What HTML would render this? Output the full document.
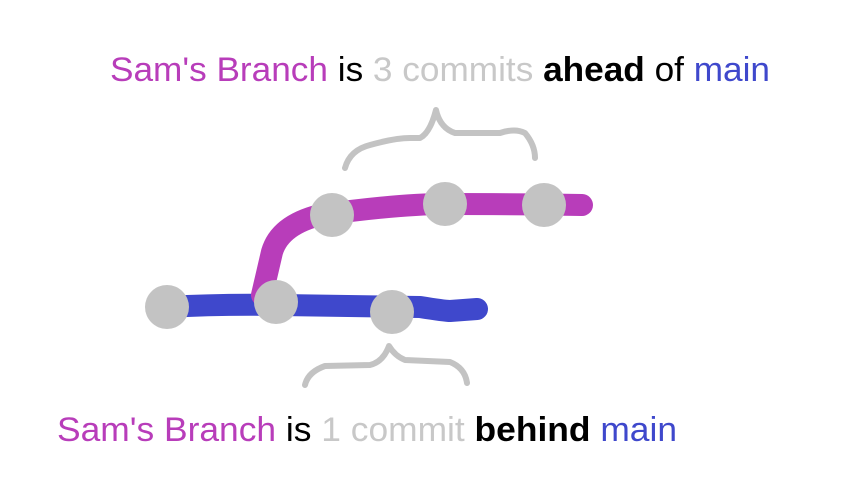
<!DOCTYPE html>
<html><head><style>
body{margin:0;background:#fff;width:866px;height:497px;overflow:hidden}
svg{display:block}
text{font-family:"Liberation Sans","DejaVu Sans",sans-serif;font-size:34px}
</style></head><body>
<svg width="866" height="497" viewBox="0 0 866 497">
<text x="110" y="81" textLength="660" lengthAdjust="spacingAndGlyphs"><tspan fill="#b83dba">Sam's Branch</tspan><tspan fill="#000"> is </tspan><tspan fill="#c8c8c8">3 commits </tspan><tspan fill="#000" font-weight="bold">ahead</tspan><tspan fill="#000"> of </tspan><tspan fill="#3f48cc">main</tspan></text>
<text x="57" y="441" textLength="620" lengthAdjust="spacingAndGlyphs"><tspan fill="#b83dba">Sam's Branch</tspan><tspan fill="#000"> is </tspan><tspan fill="#c8c8c8">1 commit </tspan><tspan fill="#000" font-weight="bold">behind</tspan><tspan fill="#3f48cc"> main</tspan></text>
<g fill="none" stroke-linecap="round" stroke-linejoin="round">
<path d="M167 307 Q220 304 280 305 L420 307 Q445 311 450 311 L477 309" stroke="#3f48cc" stroke-width="22"/>
<path d="M262 295 L272 252 Q280 225 320 215 Q400 204 445 204 Q520 204 582 205" stroke="#b83dba" stroke-width="22"/>
<path d="M345 168 Q350 150 370 145 Q395 138 410 138 L420 138 Q430 133 436 110 Q440 128 455 133 L500 133 Q515 128 525 133 Q535 145 535 158" stroke="#c3c3c3" stroke-width="6"/>
<path d="M305 385 Q308 372 325 366 L370 365 Q383 362 389 346 Q395 356 405 360 L450 362 Q465 368 467 383" stroke="#c3c3c3" stroke-width="6"/>
</g>
<g fill="#c3c3c3">
<circle cx="167" cy="307" r="22"/>
<circle cx="276" cy="302" r="22"/>
<circle cx="392" cy="312" r="22"/>
<circle cx="332" cy="215" r="22"/>
<circle cx="445" cy="204" r="22"/>
<circle cx="544" cy="205" r="22"/>
</g>
</svg>
</body></html>
